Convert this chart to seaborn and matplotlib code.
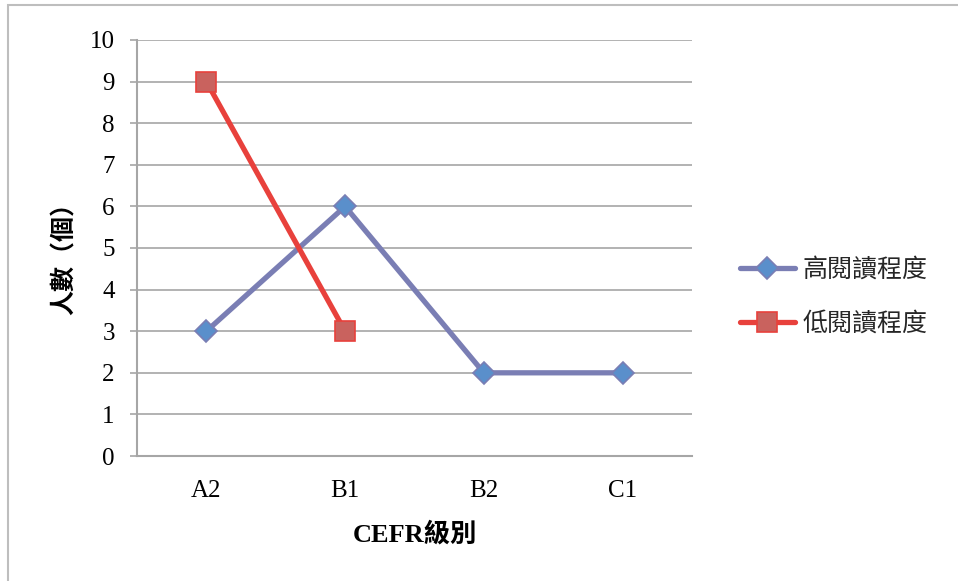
import matplotlib
matplotlib.use("Agg")
import matplotlib.pyplot as plt
import seaborn as sns
import pandas as pd
from matplotlib.patches import Rectangle

# Data
levels = ["A2", "B1", "B2", "C1"]
high_levels = ["A2", "B1", "B2", "C1"]
high_counts = [3, 6, 2, 2]
low_levels = ["A2", "B1"]
low_counts = [9, 3]
series_names = ["高閱讀程度", "低閱讀程度"]
y_ticks = list(range(0, 11))

sns.set_theme(style="white")
plt.rcParams["font.family"] = ["Liberation Serif", "Noto Sans CJK TC"]

df_high = pd.DataFrame({"level": high_levels, "count": high_counts})
df_low = pd.DataFrame({"level": low_levels, "count": low_counts})

fig = plt.figure(figsize=(9.58, 5.81), dpi=100)
ax = fig.add_axes([0.143, 0.2151, 0.5793, 0.7161])

# outer frame of the chart area
fig.patches.append(Rectangle((8 / 958, -0.05), 1.2, 1 - 5 / 581 + 0.05,
                             transform=fig.transFigure, fill=False,
                             edgecolor="#BEBEBE", linewidth=1.5))

# establish category order on the x axis
ax.plot(levels, [float("nan")] * len(levels))

sns.lineplot(data=df_high, x="level", y="count", ax=ax, color="#7A7EB4",
             linewidth=3.8, marker="D", markersize=11,
             markerfacecolor="#5A8FCB", markeredgecolor="#7A7EB4",
             markeredgewidth=1.2, label=series_names[0], zorder=3)
sns.lineplot(data=df_low, x="level", y="count", ax=ax, color="#E8413C",
             linewidth=3.8, marker="s", markersize=15,
             markerfacecolor="#C9625E", markeredgecolor="#E8413C",
             markeredgewidth=1.2, label=series_names[1], zorder=3)

ax.set_xlim(-0.5, len(levels) - 0.5)
ax.set_ylim(0, 10)
ax.set_yticks(y_ticks)
ax.yaxis.grid(True, color="#A6A6A6", linewidth=1.2)
ax.set_axisbelow(True)

for side in ["top", "right"]:
    ax.spines[side].set_visible(False)
for side in ["left", "bottom"]:
    ax.spines[side].set_color("#A6A6A6")
    ax.spines[side].set_linewidth(1.5)

ax.tick_params(axis="y", which="both", left=True, length=5, width=1.2,
               color="#A6A6A6", labelsize=18, pad=11, labelcolor="black")
ax.tick_params(axis="x", bottom=False, length=0, labelsize=18, pad=17,
               labelcolor="black")

ax.set_xlabel("CEFR級別", fontsize=19, fontweight="bold", color="black")
ax.xaxis.set_label_coords(0.5, -0.157)
ax.set_ylabel("人數（個）", fontsize=18, fontweight="bold", color="black",
              family=["Noto Sans CJK TC"])
ax.yaxis.set_label_coords(-0.130, 0.49)
ax.yaxis.label.set_verticalalignment("center")

leg = ax.legend(loc="center left", bbox_to_anchor=(1.046, 0.383), frameon=False,
                handlelength=2.2, labelspacing=1.12, handletextpad=0.3,
                prop={"family": ["Noto Sans CJK TC"], "size": 18})

fig.savefig("out.png", dpi=100, facecolor="white")
